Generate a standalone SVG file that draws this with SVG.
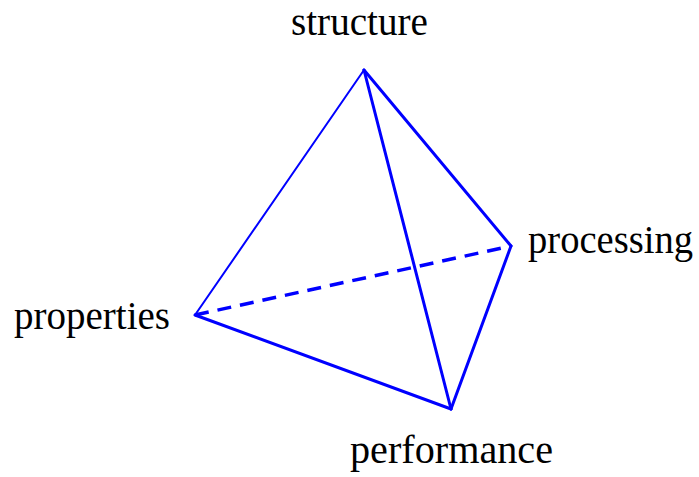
<svg xmlns="http://www.w3.org/2000/svg" width="699" height="477" viewBox="0 0 699 477">
<style>
.e{stroke:#0000ff;stroke-width:3;fill:none;stroke-linecap:round;stroke-linejoin:round}
.t{font-family:"Liberation Serif","Times New Roman",serif;font-size:39px;fill:#000}
</style>
<rect width="699" height="477" fill="#fff"/>
<g id="connectors">
<line class="e" x1="364" y1="70" x2="195" y2="315" style="stroke-width:2"/>
<line class="e" x1="364" y1="70" x2="511" y2="246"/>
<line class="e" x1="364" y1="70" x2="451" y2="409"/>
<line class="e" x1="195" y1="315" x2="451" y2="409"/>
<line class="e" x1="511" y1="246" x2="451" y2="409"/>
<line class="e" x1="195" y1="315" x2="511" y2="246" style="stroke-width:3.5;stroke-dasharray:14 9;stroke-linecap:butt"/>
</g>
<g id="structure"><text class="t" x="291" y="35" textLength="137" lengthAdjust="spacingAndGlyphs">structure</text></g>
<g id="processing"><text class="t" x="528" y="253" textLength="165" lengthAdjust="spacingAndGlyphs">processing</text></g>
<g id="properties"><text class="t" x="14" y="329" textLength="156" lengthAdjust="spacingAndGlyphs">properties</text></g>
<g id="performance"><text class="t" x="350" y="463" textLength="203" lengthAdjust="spacingAndGlyphs">performance</text></g>
</svg>
